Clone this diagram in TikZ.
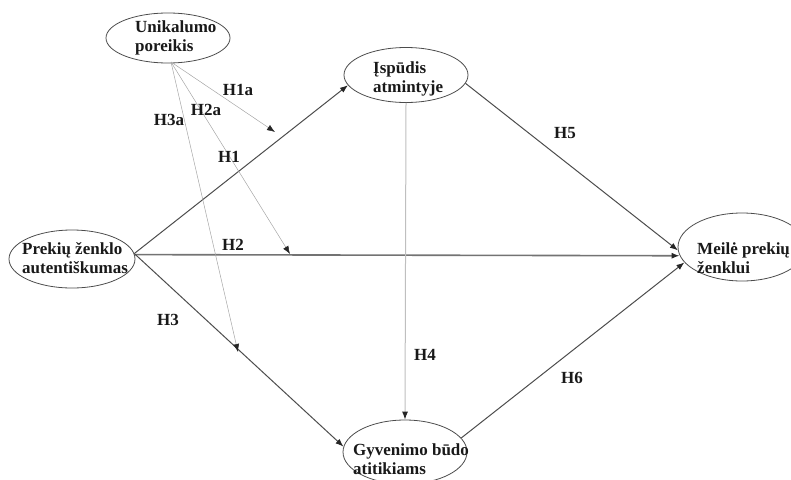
\documentclass[tikz,border=0pt]{standalone}
\usepackage{fontspec}
\setmainfont{Liberation Serif}
\usetikzlibrary{shapes.geometric,arrows.meta}
\begin{document}
\begin{tikzpicture}[x=1pt,y=-1pt,
  ell/.style={ellipse, draw=black!70, line width=0.8pt, inner sep=0pt},
  txt/.style={font=\bfseries\fontsize{17}{18.5}\selectfont, align=left, inner sep=0pt, text=black!90, anchor=west},
  lab/.style={font=\bfseries\fontsize{17}{18.5}\selectfont, inner sep=0pt, text=black!90},
  tip/.style={-{Latex[length=8pt,width=6pt,color=black!85]}},
  main/.style={tip, draw=black!70, line width=1pt},
  thick main/.style={tip, draw=black!55, line width=1.6pt},
  mod/.style={tip, draw=black!35, line width=0.5pt},
  mid/.style={tip, draw=black!25, line width=1pt}]
\useasboundingbox (0,0) rectangle (791,479);

% constructs
\node[ell, minimum width=124pt, minimum height=50pt] (U) at (168,38) {};
\node[ell, minimum width=124pt, minimum height=55pt] (I) at (406,75) {};
\node[ell, minimum width=126pt, minimum height=58pt] (P) at (72,259) {};
\node[ell, minimum width=128pt, minimum height=68pt] (M) at (742,247) {};
\node[ell, minimum width=124pt, minimum height=64pt] (G) at (405,452) {};

\node[txt] (Ut) at (135,38) {Unikalumo\\poreikis};
\node[txt] (It) at (373,79) {Įspūdis\\atmintyje};
\node[txt] (Pt) at (22,258) {Prekių ženklo\\autentiškumas};
\node[txt] (Mt) at (697,258) {Meilė prekių\\ženklui};
\node[txt] (Gt) at (353,459) {Gyvenimo būdo\\atitikiams};

% main paths
\draw[main] (P.5) -- (I.190);
\draw[thick main] (P.4) -- (M.188);
\draw[main] (P.5) -- (G.175);
\draw[main] (I.-8) -- (M.183);
\draw[main] (G.14) -- (M.195);
\draw[mid] (I.south) -- (G.north);

% moderating effects
\coordinate (m0) at (171,62);
\coordinate (e1) at (275,132);
\coordinate (e2) at (290,254);
\coordinate (e3) at (238,352);
\draw[mod] (m0) -- (e1);
\draw[mod] (m0) -- (e2);
\draw[mod] (m0) -- (e3);

% hypothesis labels
\node[lab] (h1a) at (238,90) {H1a};
\node[lab] (h2a) at (206,110) {H2a};
\node[lab] (h3a) at (169,120) {H3a};
\node[lab] (h1) at (229,157) {H1};
\node[lab] (h2) at (233,245) {H2};
\node[lab] (h3) at (168,320) {H3};
\node[lab] (h4) at (425,355) {H4};
\node[lab] (h5) at (565,133) {H5};
\node[lab] (h6) at (572,378) {H6};
\end{tikzpicture}
\end{document}
